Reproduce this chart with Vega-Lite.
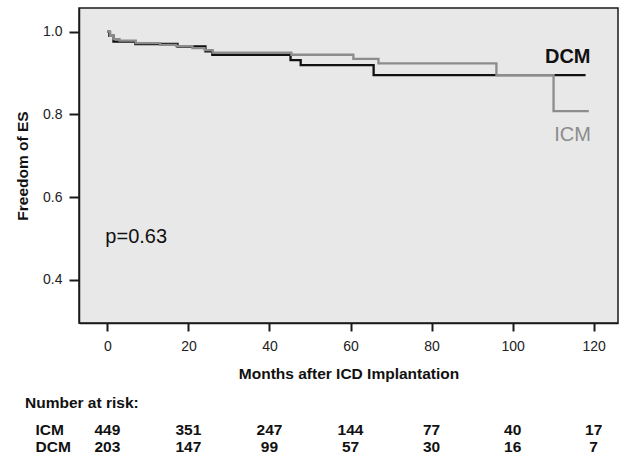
{
  "$schema": "https://vega.github.io/schema/vega-lite/v6.json",
  "padding": {"left": 14, "top": 7, "right": 2, "bottom": 0},
  "background": "white",
  "spacing": 12,
  "config": {
    "font": "Liberation Sans",
    "axis": {
      "labelFont": "Liberation Sans",
      "titleFont": "Liberation Sans",
      "labelFontSize": 14,
      "labelColor": "#222222",
      "titleFontSize": 15.5,
      "titleFontWeight": "bold",
      "titleColor": "#111111",
      "domainColor": "#1a1a1a",
      "domainWidth": 1.5,
      "tickColor": "#1a1a1a",
      "tickWidth": 2,
      "grid": false
    },
    "title": {"font": "Liberation Sans", "fontSize": 15.5, "fontWeight": "bold", "color": "#111111"}
  },
  "datasets": {
    "km": [
      {"group": "DCM", "month": 0, "surv": 1.0},
      {"group": "DCM", "month": 0.5, "surv": 0.99},
      {"group": "DCM", "month": 1.5, "surv": 0.976},
      {"group": "DCM", "month": 6.9, "surv": 0.97},
      {"group": "DCM", "month": 17.3, "surv": 0.964},
      {"group": "DCM", "month": 24.2, "surv": 0.952},
      {"group": "DCM", "month": 25.9, "surv": 0.944},
      {"group": "DCM", "month": 45.2, "surv": 0.931},
      {"group": "DCM", "month": 47.7, "surv": 0.919},
      {"group": "DCM", "month": 65.7, "surv": 0.895},
      {"group": "DCM", "month": 118, "surv": 0.895},
      {"group": "ICM", "month": 0, "surv": 1.0},
      {"group": "ICM", "month": 0.7, "surv": 0.99},
      {"group": "ICM", "month": 1.5, "surv": 0.982},
      {"group": "ICM", "month": 3, "surv": 0.978},
      {"group": "ICM", "month": 7, "surv": 0.972},
      {"group": "ICM", "month": 13, "surv": 0.968},
      {"group": "ICM", "month": 17, "surv": 0.965},
      {"group": "ICM", "month": 21, "surv": 0.96},
      {"group": "ICM", "month": 24, "surv": 0.955},
      {"group": "ICM", "month": 26, "surv": 0.949},
      {"group": "ICM", "month": 45.4, "surv": 0.944},
      {"group": "ICM", "month": 60.7, "surv": 0.934},
      {"group": "ICM", "month": 66.9, "surv": 0.923},
      {"group": "ICM", "month": 96, "surv": 0.895},
      {"group": "ICM", "month": 110.1, "surv": 0.808},
      {"group": "ICM", "month": 118.8, "surv": 0.808}
    ],
    "risk": [
      {"group": "ICM", "month": 0, "n": 449},
      {"group": "ICM", "month": 20, "n": 351},
      {"group": "ICM", "month": 40, "n": 247},
      {"group": "ICM", "month": 60, "n": 144},
      {"group": "ICM", "month": 80, "n": 77},
      {"group": "ICM", "month": 100, "n": 40},
      {"group": "ICM", "month": 120, "n": 17},
      {"group": "DCM", "month": 0, "n": 203},
      {"group": "DCM", "month": 20, "n": 147},
      {"group": "DCM", "month": 40, "n": 99},
      {"group": "DCM", "month": 60, "n": 57},
      {"group": "DCM", "month": 80, "n": 30},
      {"group": "DCM", "month": 100, "n": 16},
      {"group": "DCM", "month": 120, "n": 7}
    ]
  },
  "vconcat": [
    {
      "width": 539,
      "height": 315,
      "view": {"fill": "#e8e8e8", "stroke": "#1a1a1a", "strokeWidth": 1.5},
      "encoding": {
        "x": {
          "field": "month", "type": "quantitative",
          "scale": {"domain": [-7, 126], "nice": false, "zero": false},
          "axis": {"title": "Months after ICD Implantation", "values": [0, 20, 40, 60, 80, 100, 120], "tickSize": 8, "labelPadding": 8, "titlePadding": 13}
        },
        "y": {
          "field": "surv", "type": "quantitative",
          "scale": {"domain": [0.296, 1.057], "nice": false, "zero": false},
          "axis": {"title": "Freedom of ES", "values": [0.4, 0.6, 0.8, 1.0], "format": ".1f", "tickSize": 10, "labelPadding": 7, "titlePadding": 12}
        }
      },
      "layer": [
        {
          "data": {"name": "km"},
          "mark": {"type": "line", "interpolate": "step-after", "strokeWidth": 2.3},
          "encoding": {
            "color": {"field": "group", "type": "nominal", "scale": {"domain": ["DCM", "ICM"], "range": ["#111111", "#8c8c8c"]}, "legend": null},
            "order": {"field": "group"}
          }
        },
        {
          "data": {"values": [{"label": "DCM", "month": 113.6, "surv": 0.925}]},
          "mark": {"type": "text", "fontSize": 20, "fontWeight": "bold", "color": "#111111", "align": "center", "baseline": "alphabetic"},
          "encoding": {"text": {"field": "label"}}
        },
        {
          "data": {"values": [{"label": "ICM", "month": 114.8, "surv": 0.736}]},
          "mark": {"type": "text", "fontSize": 20, "color": "#8c8c8c", "align": "center", "baseline": "alphabetic"},
          "encoding": {"text": {"field": "label"}}
        },
        {
          "data": {"values": [{"label": "p=0.63", "month": -0.5, "surv": 0.49}]},
          "mark": {"type": "text", "fontSize": 20, "color": "#111111", "align": "left", "baseline": "alphabetic"},
          "encoding": {"text": {"field": "label"}}
        }
      ]
    },
    {
      "width": 539,
      "height": 34,
      "view": {"stroke": null},
      "title": {"text": "Number at risk:", "anchor": "start", "dx": -10, "offset": 10},
      "data": {"name": "risk"},
      "mark": {"type": "text", "fontWeight": "bold", "fontSize": 15.5, "color": "#111111", "baseline": "middle"},
      "encoding": {
        "x": {"field": "month", "type": "quantitative", "scale": {"domain": [-7, 126], "nice": false, "zero": false}, "axis": null},
        "y": {
          "field": "group", "type": "nominal",
          "scale": {"domain": ["ICM", "DCM"], "paddingInner": 0, "paddingOuter": 0},
          "axis": {"title": null, "domain": false, "ticks": false, "labelAlign": "left", "labelPadding": 44, "labelFontWeight": "bold", "labelFontSize": 15.5, "labelColor": "#111111"}
        },
        "text": {"field": "n"}
      }
    }
  ]
}
